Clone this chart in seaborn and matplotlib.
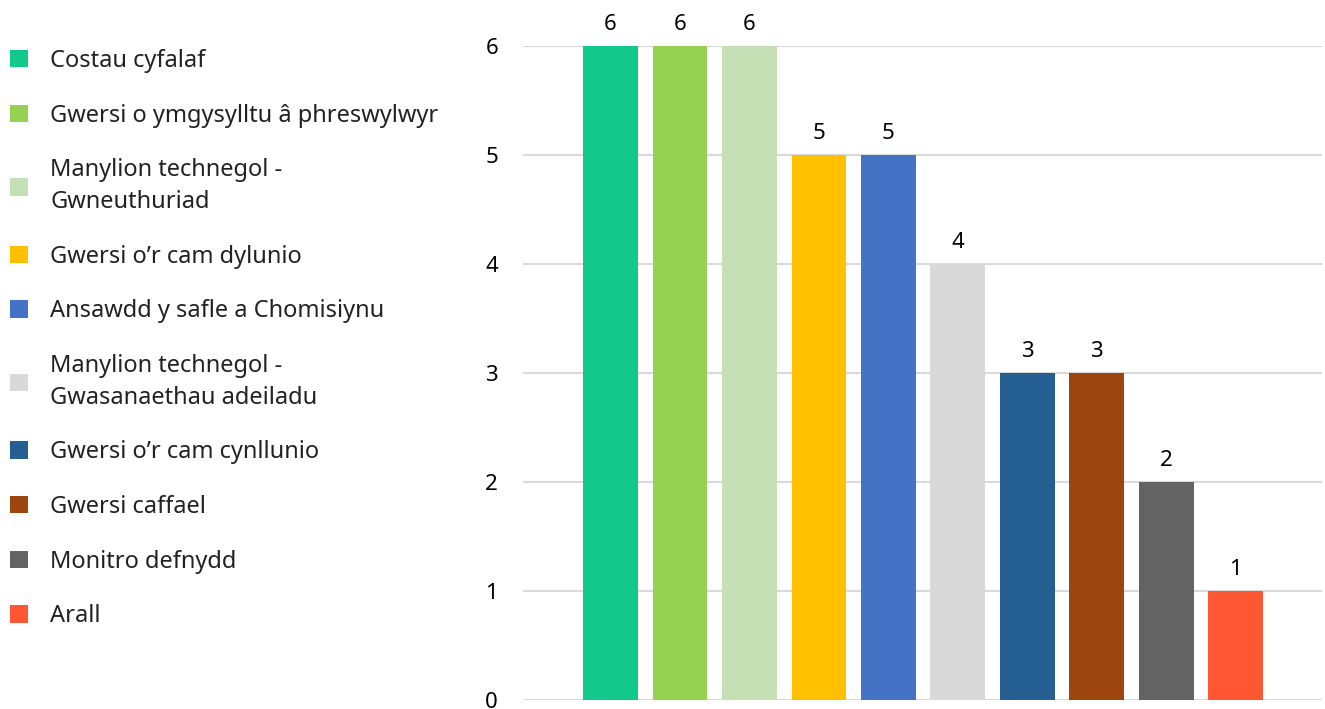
import matplotlib
matplotlib.use("Agg")
import pandas as pd
import seaborn as sns
import matplotlib.pyplot as plt
from matplotlib.patches import Patch

# data
kategorier = [
    "Costau cyfalaf",
    "Gwersi o ymgysylltu â phreswylwyr",
    "Manylion technegol - Gwneuthuriad",
    "Gwersi o’r cam dylunio",
    "Ansawdd y safle a Chomisiynu",
    "Manylion technegol - Gwasanaethau adeiladu",
    "Gwersi o’r cam cynllunio",
    "Gwersi caffael",
    "Monitro defnydd",
    "Arall",
]
legend_tekst = [
    "Costau cyfalaf",
    "Gwersi o ymgysylltu â phreswylwyr",
    "Manylion technegol -\nGwneuthuriad",
    "Gwersi o’r cam dylunio",
    "Ansawdd y safle a Chomisiynu",
    "Manylion technegol -\nGwasanaethau adeiladu",
    "Gwersi o’r cam cynllunio",
    "Gwersi caffael",
    "Monitro defnydd",
    "Arall",
]
verdier = [6, 6, 6, 5, 5, 4, 3, 3, 2, 1]
farger = ["#12c88a", "#95d251", "#c6e0b6", "#ffc000", "#4472c4",
          "#d9d9d9", "#255e91", "#9c450e", "#636363", "#ff5733"]

sns.set_theme(style="white")
plt.rcParams['font.family'] = ['Noto Sans', 'DejaVu Sans']

df = pd.DataFrame({"kategori": kategorier, "antall": verdier})

fig = plt.figure(figsize=(13.25, 7.09), dpi=100)
ax = fig.add_axes([0.3947, 0.0127, 0.6030, 0.9227])

sns.barplot(data=df, x="kategori", y="antall", hue="kategori", palette=farger,
            width=0.79, dodge=False, legend=False, saturation=1, linewidth=0, ax=ax)

ax.set_xlim(-1.26, 10.24)
ax.set_ylim(0, 6)
ax.set_yticks(range(7))
ax.yaxis.grid(True, color="#d9d9d9", lw=1.5)
ax.set_axisbelow(True)
ax.set_xticks([])
ax.set_xlabel("")
ax.set_ylabel("")
sns.despine(ax=ax, left=True, bottom=True)
ax.tick_params(axis="y", length=0, pad=18, labelsize=16, labelcolor="#000000")

for c in ax.containers:
    ax.bar_label(c, padding=8, fontsize=16, color="#000000", annotation_clip=False)

handles = [Patch(facecolor=f, edgecolor="none") for f in farger]
leg = fig.legend(handles, legend_tekst, loc="upper left", bbox_to_anchor=(0.0075, 0.931),
                 frameon=False, fontsize=17, handlelength=0.75, handleheight=0.75,
                 handletextpad=0.95, labelspacing=1.3, borderpad=0, borderaxespad=0,
                 labelcolor="#222222")
for t in leg.get_texts():
    t.set_linespacing(1.42)

fig.savefig("out.png", dpi=100)
